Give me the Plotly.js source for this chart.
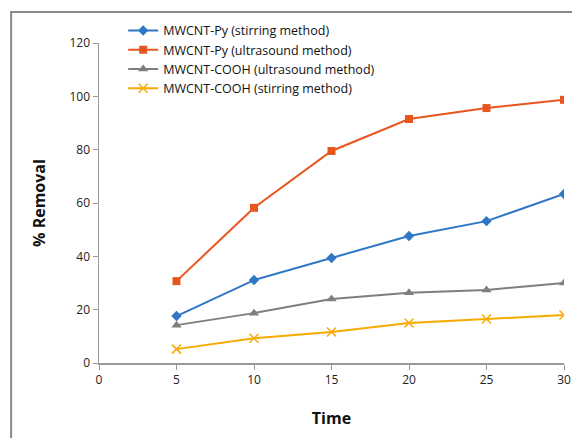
<!DOCTYPE html>
<html><head><meta charset="utf-8">
<script src="https://cdn.plot.ly/plotly-3.0.1.min.js"></script>
<style>html,body{margin:0;padding:0;background:#fff}#chart{width:572px;height:438px}</style>
</head><body><div id="chart"></div>
<script>
const time = [5, 10, 15, 20, 25, 30];
const pyStirring = [17.6, 31.1, 39.4, 47.6, 53.2, 63.4];
const pyUltrasound = [30.7, 58.2, 79.5, 91.5, 95.6, 98.7];
const coohUltrasound = [14.2, 18.7, 24.0, 26.3, 27.4, 30.0];
const coohStirring = [5.2, 9.3, 11.6, 15.0, 16.5, 18.0];
const names = ["MWCNT-Py (stirring method)", "MWCNT-Py (ultrasound method)", "MWCNT-COOH (ultrasound method)", "MWCNT-COOH (stirring method)"];

const font = "Open Sans, Liberation Sans, sans-serif";
function tr(y, name, color, symbol, size, extra) {
  return {
    x: time, y: y, name: name, type: "scatter", mode: "lines+markers",
    line: {color: color, width: 2},
    marker: Object.assign({color: color, symbol: symbol, size: size}, extra || {})
  };
}
const data = [
  tr(pyStirring, names[0], "#2f77c6", "diamond", 8),
  tr(pyUltrasound, names[1], "#e8561f", "square", 8),
  tr(coohUltrasound, names[2], "#7f7f7f", "triangle-up", 9),
  tr(coohStirring, names[3], "#f7aa00", "x-thin", 9, {line: {color: "#f7aa00", width: 1.5}})
];
const layout = {
  width: 572, height: 438,
  margin: {l: 99, r: 8, t: 43, b: 75},
  paper_bgcolor: "#fff", plot_bgcolor: "#fff",
  font: {family: font, size: 12, color: "#222"},
  showlegend: true,
  legend: {x: 0.052, y: 1.085, xanchor: "left", yanchor: "top", bgcolor: "rgba(0,0,0,0)",
           font: {family: font, size: 12.5, color: "#111"}, itemwidth: 30, tracegroupgap: 0},
  xaxis: {range: [0, 30], tickvals: [0, 5, 10, 15, 20, 25, 30], showgrid: false, zeroline: false,
          showline: true, linecolor: "#999", linewidth: 1.5, ticks: "outside", ticklen: 5, tickcolor: "#999",
          tickfont: {size: 12, color: "#222"},
          title: {text: "<b>Time</b>", font: {size: 16, color: "#111"}, standoff: 26}},
  yaxis: {range: [0, 120], tickvals: [0, 20, 40, 60, 80, 100, 120], showgrid: false, zeroline: false,
          showline: true, linecolor: "#999", linewidth: 1.5, ticks: "outside", ticklen: 5, tickcolor: "#999",
          tickfont: {size: 12, color: "#222"},
          title: {text: "<b>% Removal</b>", font: {size: 16, color: "#111"}, standoff: 20}},
  shapes: [{type: "rect", xref: "paper", yref: "paper", x0: -0.189, x1: 1.2, y0: -0.4, y1: 1.097,
            line: {color: "#8a8a8a", width: 2}, fillcolor: "rgba(0,0,0,0)", layer: "below"}]
};
Plotly.newPlot("chart", data, layout, {displayModeBar: false, staticPlot: true});
</script></body></html>
